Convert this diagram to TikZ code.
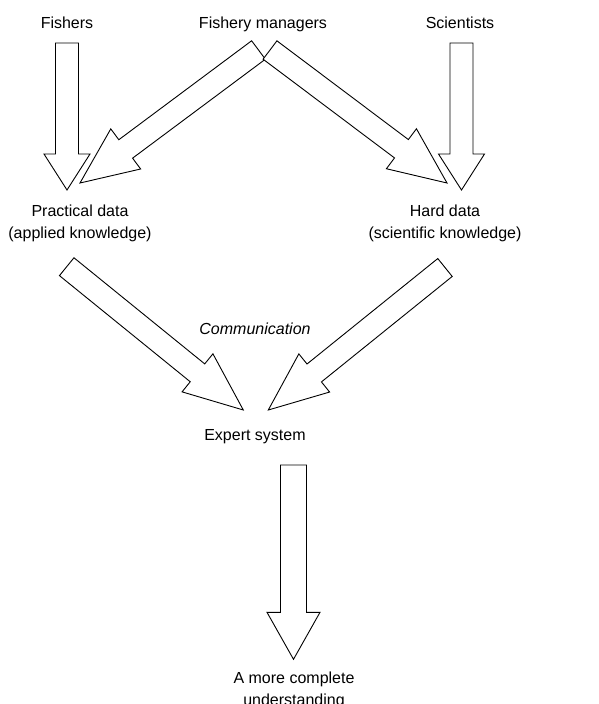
\documentclass[tikz,border=0pt]{standalone}
\usepackage{fontspec}
\setmainfont{Liberation Sans}
\usetikzlibrary{calc}

\tikzset{
	txt/.style={font=\fontsize{16}{22}\selectfont, align=center, inner sep=0pt},
	hollow/.style={draw=black, line width=0.9pt, fill=white, line join=miter},
}
% tail, tip, shaft width, head width, head length
\newcommand{\hollowarrow}[5]{%
	\coordinate (hb) at ($(#2)!#5!(#1)$);
	\draw[hollow] ($(#1)!#3/2!90:(#2)$) -- ($(hb)!#3/2!90:(#2)$) -- ($(hb)!#4/2!90:(#2)$) -- (#2)
		-- ($(hb)!#4/2!-90:(#2)$) -- ($(hb)!#3/2!-90:(#2)$) -- ($(#1)!#3/2!-90:(#2)$) -- cycle;
}

\begin{document}
\begin{tikzpicture}[x=1pt,y=-1pt]
		\clip (0,0) rectangle (598,704);
		\fill[white] (0,0) rectangle (598,704);
		
		\node[txt,anchor=base] (fishers) at (67,28) {Fishers}; %top row
		\node[txt,anchor=base] (managers) at (263,28) {Fishery managers};
		\node[txt,anchor=base] (scientists) at (460,28) {Scientists};
		
		\node[txt] (practical) at (80,223) {Practical data\\(applied knowledge)}; %middle row
		\node[txt] (hard) at (445,223) {Hard data\\(scientific knowledge)};
		
		\node[txt,anchor=base] (communication) at (255,334) {\itshape Communication};
		\node[txt,anchor=base] (expert) at (255,440) {Expert system};
		\node[txt] (understanding) at (294,690) {A more complete\\understanding};
		
		% arrow ends
		\coordinate (fishersout) at (67,43);    \coordinate (fishersin) at (67,190);
		\coordinate (scientistsout) at (461.5,43); \coordinate (scientistsin) at (461.5,190);
		\coordinate (managersleft) at (258.5,50); \coordinate (practicalin) at (80,183);
		\coordinate (managersright) at (270,50); \coordinate (hardin) at (447,183);
		\coordinate (practicalout) at (66.7,266.7); \coordinate (expertleft) at (243.3,410);
		\coordinate (hardout) at (445,267.5);    \coordinate (expertright) at (268.3,410);
		\coordinate (expertout) at (293.5,465);  \coordinate (understandingin) at (293.5,659.3);
		
		\hollowarrow{fishersout}{fishersin}{23pt}{46pt}{36pt} %fishers down
		\hollowarrow{scientistsout}{scientistsin}{23pt}{46pt}{36pt} %scientists down
		\hollowarrow{managersleft}{practicalin}{23pt}{50pt}{57pt} %managers to practical
		\hollowarrow{managersright}{hardin}{23pt}{50pt}{57pt} %managers to hard
		\hollowarrow{practicalout}{expertleft}{23pt}{49pt}{59pt} %practical to expert
		\hollowarrow{hardout}{expertright}{23pt}{49pt}{59pt} %hard to expert
		\hollowarrow{expertout}{understandingin}{26pt}{53pt}{47pt} %expert down
\end{tikzpicture}
\end{document}
